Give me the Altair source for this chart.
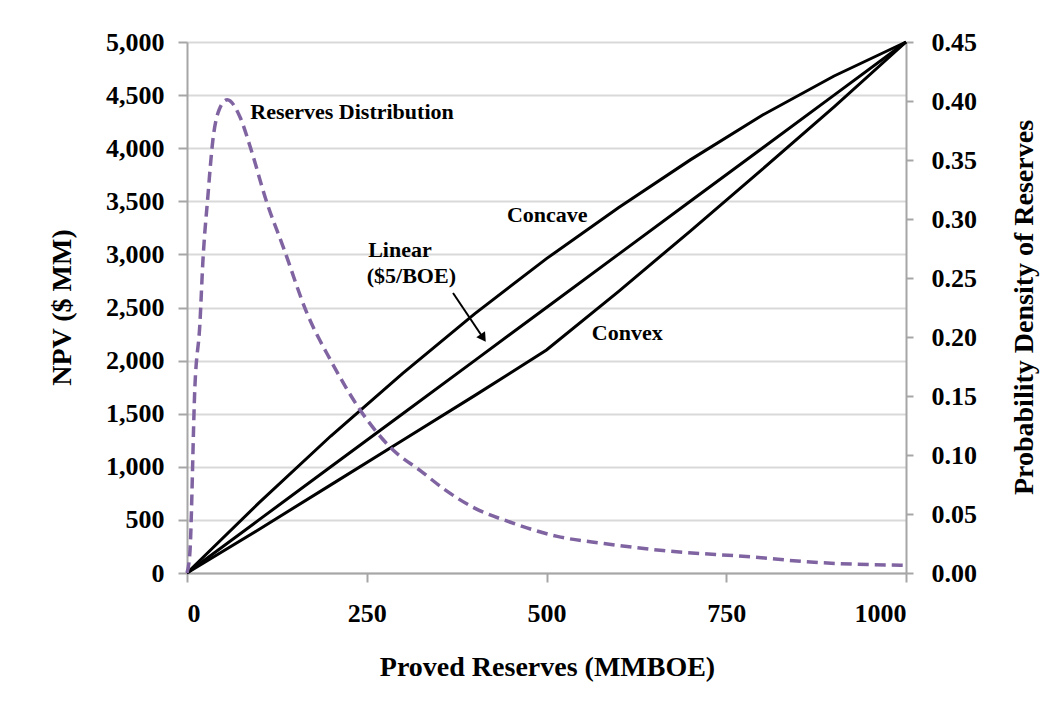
import altair as alt
import pandas as pd

# ---- data ----
reserves = [0, 100, 200, 300, 400, 500, 600, 700, 800, 900, 1000]
concave = [0, 660, 1290, 1880, 2440, 2960, 3440, 3890, 4310, 4680, 5000]
linear = [0, 500, 1000, 1500, 2000, 2500, 3000, 3500, 4000, 4500, 5000]
convex = [0, 410, 830, 1250, 1670, 2100, 2650, 3220, 3800, 4390, 5000]

dist_reserves = [0, 4, 11, 18, 22, 29, 36, 45, 56, 74, 88, 111, 134, 167, 200,
                 241, 287, 324, 360, 400, 450, 515, 580, 662, 788, 862, 1000]
dist_density = [0.0, 0.017, 0.158, 0.212, 0.263, 0.319, 0.367, 0.393, 0.401, 0.386,
                0.361, 0.314, 0.276, 0.220, 0.180, 0.138, 0.104, 0.087, 0.070,
                0.055, 0.043, 0.031, 0.025, 0.019, 0.0135, 0.0095, 0.0065]

label_text = ["Reserves Distribution", "Concave", "Linear", "($5/BOE)", "Convex"]
label_x = [88, 445, 252, 250, 563]
label_y = [4275, 3305, 2976, 2731, 2194]

arrow_x = [370]
arrow_y = [2637]
arrow_x2 = [412]
arrow_y2 = [2213]

npv_ticks = list(range(0, 5001, 500))
dens_ticks = [0.0, 0.05, 0.10, 0.15, 0.20, 0.25, 0.30, 0.35, 0.40, 0.45]
x_ticks = [0, 250, 500, 750, 1000]

FONT = "Liberation Serif"

rows = []
for name, vals in [("Concave", concave), ("Linear", linear), ("Convex", convex)]:
    for r, v in zip(reserves, vals):
        rows.append({"series": name, "reserves": r, "npv": v})
lines_df = pd.DataFrame(rows)
dist_df = pd.DataFrame({"reserves": dist_reserves, "density": dist_density})
labels_df = pd.DataFrame({"text": label_text, "reserves": label_x, "npv": label_y})
arrow_df = pd.DataFrame({"reserves": arrow_x, "npv": arrow_y,
                         "reserves2": arrow_x2, "npv2": arrow_y2})

x_scale = alt.Scale(domain=[0, 1000], nice=False, zero=False)
y_scale = alt.Scale(domain=[0, 5000], nice=False)

x_axis = alt.Axis(
    values=x_ticks, format=".0f", grid=False,
    title="Proved Reserves (MMBOE)",
    titleX=360, titleY=102, titleBaseline="alphabetic", titleAlign="center",
    labelPadding=18, tickSize=9,
)
y_axis = alt.Axis(
    values=npv_ticks, format=",.0f", grid=True,
    title="NPV ($ MM)", titleAngle=270,
    titleX=-117, titleY=265, titleBaseline="alphabetic", titleAlign="center",
    labelPadding=14, tickSize=9,
)

lines = alt.Chart(lines_df).mark_line(
    color="black", strokeWidth=3
).encode(
    x=alt.X("reserves:Q", scale=x_scale, axis=x_axis),
    y=alt.Y("npv:Q", scale=y_scale, axis=y_axis),
    detail="series:N",
)

labels = alt.Chart(labels_df).mark_text(
    font=FONT, fontWeight="bold", fontSize=22, align="left", baseline="alphabetic",
    color="black",
).encode(
    x=alt.X("reserves:Q", scale=x_scale, axis=x_axis),
    y=alt.Y("npv:Q", scale=y_scale, axis=y_axis),
    text="text:N",
)

arrow_line = alt.Chart(arrow_df).mark_rule(color="black", strokeWidth=2).encode(
    x=alt.X("reserves:Q", scale=x_scale, axis=x_axis),
    y=alt.Y("npv:Q", scale=y_scale, axis=y_axis),
    x2="reserves2:Q",
    y2="npv2:Q",
)

arrow_head = alt.Chart(arrow_df).mark_point(
    shape="triangle-up", filled=True, color="black", size=110, angle=146, opacity=1
).encode(
    x=alt.X("reserves2:Q", scale=x_scale, axis=x_axis),
    y=alt.Y("npv2:Q", scale=y_scale, axis=y_axis),
)

npv_layer = alt.layer(lines, labels, arrow_line, arrow_head)

dist = alt.Chart(dist_df).mark_line(
    color="#8064a2", strokeWidth=3.5, strokeDash=[11, 6], interpolate="monotone"
).encode(
    x=alt.X("reserves:Q", scale=x_scale, axis=x_axis),
    y=alt.Y(
        "density:Q", scale=alt.Scale(domain=[0, 0.45], nice=False),
        axis=alt.Axis(
            orient="right", values=dens_ticks, format=".2f", grid=False,
            title="Probability Density of Reserves", titleAngle=270,
            titleX=126, titleY=265, titleBaseline="alphabetic", titleAlign="center",
            labelPadding=18, tickSize=7,
        ),
    ),
)

chart = alt.layer(npv_layer, dist).resolve_scale(y="independent").properties(
    width=719, height=531,
    autosize=alt.AutoSizeParams(type="none"),
    padding={"left": 179, "top": 34, "right": 135, "bottom": 125},
    background="white",
).configure_view(
    stroke=None
).configure_axis(
    labelFont=FONT, labelFontWeight="bold", labelFontSize=26, labelColor="black",
    titleFont=FONT, titleFontWeight="bold", titleFontSize=28, titleColor="black",
    domainColor="#a6a6a6", domainWidth=2,
    tickColor="#a6a6a6", tickWidth=2,
    gridColor="#d9d9d9", gridWidth=2,
)

chart.save("out.html", embed_options={"renderer": "svg", "actions": False})
